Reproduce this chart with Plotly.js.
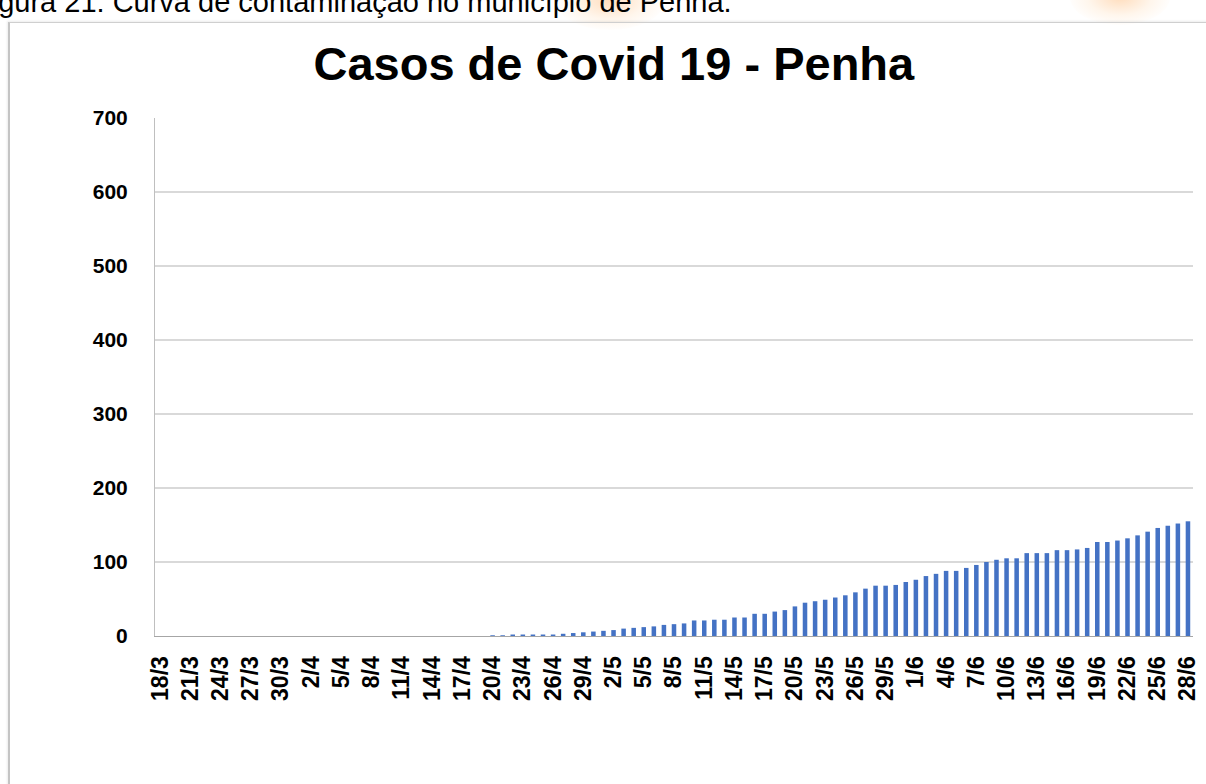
<!DOCTYPE html>
<html>
<head>
<meta charset="utf-8">
<script src="https://cdn.plot.ly/plotly-3.0.1.min.js"></script>
<style>
  html, body { margin: 0; padding: 0; background: #ffffff; overflow: hidden; }
  #wrap { position: relative; width: 1206px; height: 784px; overflow: hidden; }
  #chart { position: absolute; left: 0; top: 0; width: 1206px; height: 784px; }
  #frame { position: absolute; left: 8px; top: 22px; width: 1210px; height: 780px;
           border-left: 2px solid #c4c4c4; border-top: 1px solid #cfcfcf;
           box-shadow: -1px -1px 2px rgba(0,0,0,0.08); pointer-events: none; }
  .blob { position: absolute; border-radius: 50%; pointer-events: none;
          background: radial-gradient(ellipse at center, rgba(255,170,90,0.4) 0%, rgba(255,205,150,0.18) 45%, rgba(255,255,255,0) 75%); }
  #caption { position: absolute; left: -26px; top: -12px; font-family: "Liberation Sans", Arial, sans-serif;
             font-size: 29px; line-height: 29px; color: #000; white-space: nowrap; }
</style>
</head>
<body>
<div id="wrap">
  <div id="chart"></div>
  <div class="blob" style="left:555px; top:-30px; width:110px; height:60px;"></div>
  <div class="blob" style="left:1070px; top:-30px; width:100px; height:55px;"></div>
  <div id="frame"></div>
  <div id="caption">Figura 21: Curva de contaminação no município de Penha.</div>
</div>
<script>
const categories = [
  "18/3","19/3","20/3","21/3","22/3","23/3","24/3","25/3","26/3","27/3","28/3","29/3","30/3","31/3",
  "1/4","2/4","3/4","4/4","5/4","6/4","7/4","8/4","9/4","10/4","11/4","12/4","13/4","14/4","15/4",
  "16/4","17/4","18/4","19/4","20/4","21/4","22/4","23/4","24/4","25/4","26/4","27/4","28/4","29/4","30/4",
  "1/5","2/5","3/5","4/5","5/5","6/5","7/5","8/5","9/5","10/5","11/5","12/5","13/5","14/5","15/5",
  "16/5","17/5","18/5","19/5","20/5","21/5","22/5","23/5","24/5","25/5","26/5","27/5","28/5","29/5","30/5","31/5",
  "1/6","2/6","3/6","4/6","5/6","6/6","7/6","8/6","9/6","10/6","11/6","12/6","13/6","14/6","15/6",
  "16/6","17/6","18/6","19/6","20/6","21/6","22/6","23/6","24/6","25/6","26/6","27/6","28/6"
];
const cases = [
  0,0,0,0,0,0,0,0,0,0,0,0,0,0,0,0,0,0,0,0,0,0,0,0,0,0,0,0,0,0,0,0,0,
  1,1,2,2,2,2,2,3,4,5,6,7,8,10,11,12,13,15,16,17,
  21,21,22,22,25,25,30,30,33,35,40,45,47,49,52,55,59,64,68,68,
  69,73,76,81,84,88,88,92,96,100,103,105,105,112,112,
  112,116,116,117,119,127,127,129,132,136,141,146,149,152,155
];
const tickLabels = [
  "18/3","21/3","24/3","27/3","30/3","2/4","5/4","8/4","11/4","14/4","17/4","20/4","23/4","26/4","29/4",
  "2/5","5/5","8/5","11/5","14/5","17/5","20/5","23/5","26/5","29/5","1/6","4/6","7/6","10/6","13/6",
  "16/6","19/6","22/6","25/6","28/6"
];
const yTicks = [0, 100, 200, 300, 400, 500, 600, 700];
const chartTitle = "Casos de Covid 19 - Penha";

const font = '"Liberation Sans", Arial, sans-serif';

const trace = {
  type: 'bar',
  x: categories,
  y: cases,
  marker: { color: '#4472c4', line: { width: 0 } },
  hoverinfo: 'x+y'
};

const layout = {
  width: 1206, height: 784,
  margin: { l: 155, r: 13, t: 118, b: 148, pad: 0 },
  paper_bgcolor: 'rgba(0,0,0,0)',
  plot_bgcolor: '#ffffff',
  bargap: 0.55,
  showlegend: false,
  title: {
    text: chartTitle,
    font: { family: font, size: 47, color: '#000000', weight: 'bold' },
    x: 0.509, xanchor: 'center', xref: 'container',
    y: 0.919, yanchor: 'middle', yref: 'container'
  },
  xaxis: {
    type: 'category',
    categoryorder: 'array', categoryarray: categories,
    range: [-0.5, categories.length - 0.5],
    tickmode: 'array', tickvals: tickLabels, ticktext: tickLabels,
    tickangle: -90,
    tickfont: { family: font, size: 23, color: '#000000', weight: 'bold' },
    ticks: '', ticklabelstandoff: 10,
    showgrid: false, zeroline: false,
    showline: true, linecolor: '#a6a6a6', linewidth: 1,
    fixedrange: true
  },
  yaxis: {
    range: [0, 700],
    tickmode: 'array', tickvals: yTicks, ticktext: yTicks.map(String),
    tickfont: { family: font, size: 21, color: '#000000', weight: 'bold' },
    ticks: '', ticklabelstandoff: 22,
    showgrid: true, gridcolor: '#d9d9d9', gridwidth: 1.5,
    zeroline: false,
    showline: true, linecolor: '#bfbfbf', linewidth: 1,
    fixedrange: true
  }
};

Plotly.newPlot('chart', [trace], layout, { displayModeBar: false, staticPlot: true });
</script>
</body>
</html>
